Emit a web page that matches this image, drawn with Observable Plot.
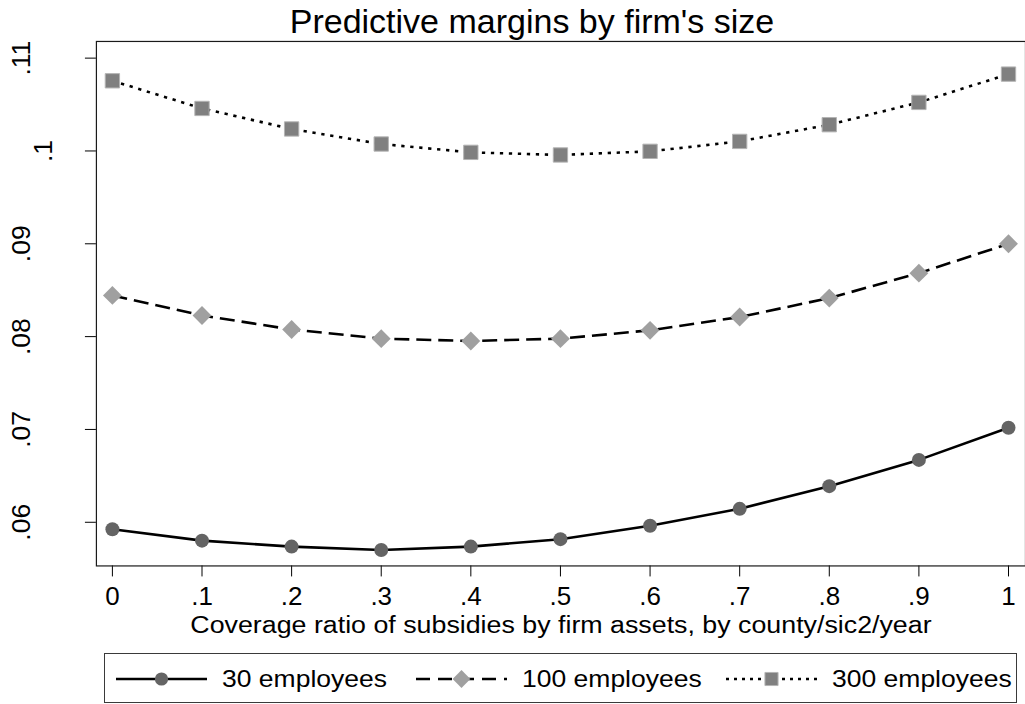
<!DOCTYPE html>
<html><head><meta charset="utf-8">
<script src="https://cdn.jsdelivr.net/npm/d3@7"></script>
<script src="https://cdn.jsdelivr.net/npm/@observablehq/plot@0.6"></script>
<style>
html,body{margin:0;padding:0;background:#fff;overflow:hidden;}
#wrap{position:relative;width:1025px;height:704px;overflow:hidden;font-family:"Liberation Sans",Arial,Helvetica,sans-serif;color:#000;}
#title{position:absolute;left:0;top:4px;width:1064px;text-align:center;font-size:34px;line-height:1;white-space:nowrap;}
#chart{position:absolute;left:0;top:0;}
#legend{position:absolute;left:104px;top:653px;width:913px;height:50px;box-sizing:border-box;border:1px solid #3a3a3a;}
.item{position:absolute;top:0;height:48px;}
.item svg{position:absolute;left:0;top:0;}
.item span{position:absolute;top:0;line-height:1;font-size:24px;white-space:nowrap;transform:scaleX(1.104);transform-origin:0 0;}
</style></head>
<body><div id="wrap"><div id="chart"></div><div id="title">Predictive margins by firm's size</div><div id="legend"></div></div>
<script>
// ---- data ----
const coverage = [0, 0.1, 0.2, 0.3, 0.4, 0.5, 0.6, 0.7, 0.8, 0.9, 1];
const emp30  = [0.05925, 0.05802, 0.05738, 0.05702, 0.05738, 0.05818, 0.05963, 0.06145, 0.06389, 0.06672, 0.07018];
const emp100 = [0.08444, 0.08228, 0.08077, 0.07978, 0.07953, 0.07978, 0.08068, 0.08211, 0.08415, 0.08684, 0.09000];
const emp300 = [0.10756, 0.10458, 0.10237, 0.10075, 0.09985, 0.09957, 0.09996, 0.10103, 0.10283, 0.10523, 0.10828];
const seriesNames = ["30 employees", "100 employees", "300 employees"];
const xTicks = [0, 0.1, 0.2, 0.3, 0.4, 0.5, 0.6, 0.7, 0.8, 0.9, 1];
const xTickLabels = ["0", ".1", ".2", ".3", ".4", ".5", ".6", ".7", ".8", ".9", "1"];
const yTicks = [0.06, 0.07, 0.08, 0.09, 0.10, 0.11];
const yTickLabels = [".06", ".07", ".08", ".09", ".1", ".11"];
const titleText = "Predictive margins by firm's size";
const xLabel = "Coverage ratio of subsidies by firm assets, by county/sic2/year";

// ---- build ----
const seriesValues = [emp30, emp100, emp300];
const rows = seriesNames.flatMap((s, k) => coverage.map((x, i) => ({x, y: seriesValues[k][i], s})));
const styles = [
  {dash: null, symbol: "circle", fill: "#646464", r: 7, lr: 6.6},
  {dash: "15,7", symbol: "diamond2", fill: "#a0a0a0", r: 8.5, lr: 8},
  {dash: "3.3,5.7", symbol: "square", fill: "#808080", r: 8.1, lr: 7.4}
];
const FONT = '"Liberation Sans", Arial, Helvetica, sans-serif';
const xLab = d => xTickLabels[xTicks.indexOf(d)];
const yLab = d => yTickLabels[yTicks.indexOf(d)];
document.getElementById("title").textContent = titleText;

const lineMarks = seriesNames.map((s, k) => Plot.line(rows.filter(d => d.s === s), {
  x: "x", y: "y", stroke: "#000", strokeWidth: 2.6,
  strokeDasharray: styles[k].dash || undefined, strokeLinecap: "butt"
}));
const dotMarks = seriesNames.map((s, k) => Plot.dot(rows.filter(d => d.s === s), {
  x: "x", y: "y", symbol: () => styles[k].symbol, r: styles[k].r,
  fill: styles[k].fill, stroke: k === 2 ? "#b4b4b4" : "none", strokeWidth: k === 2 ? 1 : 0
}));

const chart = Plot.plot({
  width: 1026, height: 645,
  marginTop: 41, marginLeft: 96, marginRight: 0, marginBottom: 79,
  style: {fontFamily: FONT, fontSize: "26px", background: "transparent", color: "#000"},
  x: {domain: [0, 1], insetLeft: 16, insetRight: 17, label: null},
  y: {domain: [0.055297, 0.111797], label: null},
  symbol: {type: "identity"},
  marks: [
    Plot.axisX({ticks: xTicks, tickSize: 11, tickPadding: 10, tickFormat: xLab, label: null, fontSize: 26}),
    Plot.axisY({ticks: yTicks, tickSize: 11, tickFormat: () => "", label: null}),
    Plot.text(yTicks.filter(t => yLab(t).length > 2), {
      y: d => d, text: yLab, frameAnchor: "left", dx: -66.5, rotate: -90,
      textAnchor: "middle", lineAnchor: "bottom", fontSize: 26.5, fill: "#000"
    }),
    Plot.text(yTicks.filter(t => yLab(t).length <= 2), {
      y: d => d, text: yLab, frameAnchor: "left", dx: -44, rotate: -90,
      textAnchor: "middle", lineAnchor: "bottom", fontSize: 26.5, fill: "#000"
    }),
    Plot.text([xLabel], {text: d => d, frameAnchor: "bottom", dy: 67, lineAnchor: "bottom", fontSize: 24, fill: "#000", className: "xlabel"}),
    ...lineMarks,
    ...dotMarks,
    Plot.frame({stroke: "#1a1a1a", strokeWidth: 1.2})
  ]
});
document.getElementById("chart").appendChild(chart);
// stretch the axis title to the reference's width
d3.select(chart).selectAll(".xlabel text").attr("textLength", 742).attr("lengthAdjust", "spacingAndGlyphs");

// ---- legend ----
const legend = d3.select("#legend");
const colLeft = [11, 311, 621], lineW = 91, textGap = 15;
seriesNames.forEach((s, k) => {
  const st = styles[k];
  const item = legend.append("div").attr("class", "item").style("left", colLeft[k] + "px");
  const svg = item.append("svg").attr("width", lineW).attr("height", 48);
  svg.append("line").attr("x1", 0).attr("x2", lineW).attr("y1", 25).attr("y2", 25)
    .attr("stroke", "#000").attr("stroke-width", 2.4)
    .attr("stroke-dasharray", st.dash ? (k === 1 ? "14,8" : "3,5") : null);
  const sym = {circle: d3.symbolCircle, diamond2: d3.symbolDiamond2, square: d3.symbolSquare}[st.symbol];
  svg.append("path").attr("transform", `translate(${lineW / 2},25)`)
    .attr("d", d3.symbol(sym, Math.PI * st.lr * st.lr)()).attr("fill", st.fill)
    .attr("stroke", k === 2 ? "#b4b4b4" : "none");
  item.append("span").style("left", (lineW + textGap) + "px").style("top", "13px").text(s);
});
</script>
</body></html>
